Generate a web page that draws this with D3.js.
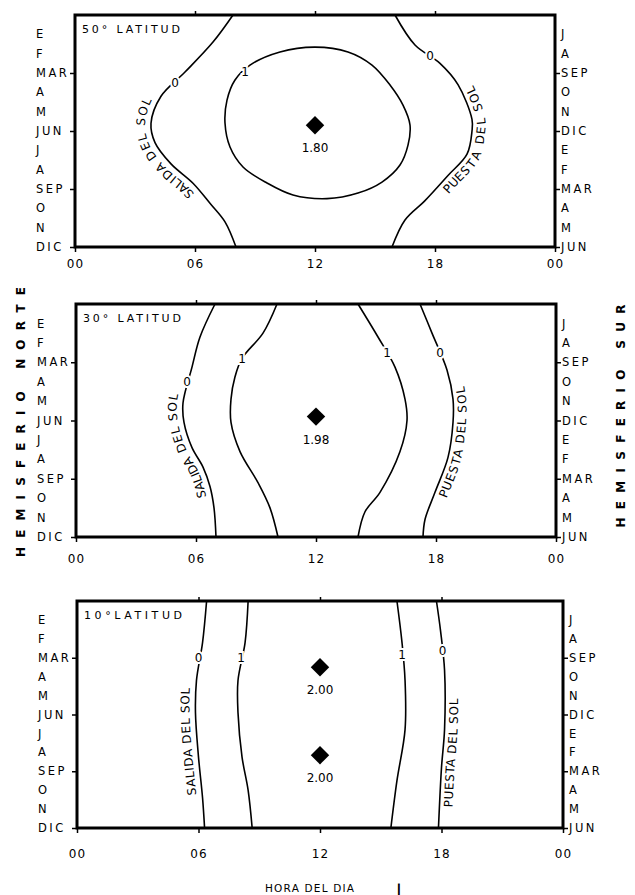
<!DOCTYPE html>
<html>
<head>
<meta charset="utf-8">
<script src="https://cdn.jsdelivr.net/npm/d3@7"></script>
<style>
body { margin: 0; background: #fff; }
text { font-family: "DejaVu Sans", sans-serif; fill: #000; }
</style>
</head>
<body>
<div id="chart"></div>
<script>
// hours of the day and months (0 = start of E, 12 = end of DIC)
var hourTicks = [0, 6, 12, 18, 24];
var hourLabels = ['00', '06', '12', '18', '00'];
var monthsNorth = ['E', 'F', 'MAR', 'A', 'M', 'JUN', 'J', 'A', 'SEP', 'O', 'N', 'DIC'];
var monthsSouth = ['J', 'A', 'SEP', 'O', 'N', 'DIC', 'E', 'F', 'MAR', 'A', 'M', 'JUN'];
var monthTicks = [3, 6, 9, 12];
var latitudes = ['50° LATITUD', '30° LATITUD', '10°LATITUD'];

// contour lines, points are [hour, month]
var sunrise50 = [[7.9, 0], [6.9, 1.4], [5.5, 2.95], [4.3, 4.2], [3.8, 5.6], [4.0, 6.6], [4.8, 7.7], [5.9, 8.7], [6.8, 9.8], [7.5, 10.7], [8.05, 12]];
var sunset50 = [[16.0, 0], [17.0, 1.55], [18.25, 2.5], [19.15, 3.6], [19.85, 5.4], [19.85, 6.0], [19.6, 7.2], [18.65, 8.3], [17.5, 9.6], [16.5, 10.6], [15.85, 12]];
var one50 = [[12, 1.66], [13.65, 1.91], [14.85, 2.59], [15.75, 3.62], [16.4, 4.66], [16.75, 5.69], [16.65, 6.73], [16.25, 7.76], [15.35, 8.64], [14.15, 9.21], [12.6, 9.5],
  [10.9, 9.31], [9.6, 8.69], [8.4, 7.86], [7.75, 6.83], [7.5, 5.59], [7.6, 4.4], [8.0, 3.36], [8.75, 2.59], [10.25, 1.91]];

var sunrise30 = [[6.95, 0], [6.2, 1.7], [5.8, 3.25], [5.35, 5.1], [5.4, 6.1], [5.8, 7.4], [6.35, 8.4], [6.7, 9.4], [6.9, 10.5], [7.0, 12]];
var oneLeft30 = [[10.05, 0], [9.35, 1.5], [8.3, 2.8], [7.95, 3.75], [7.75, 4.9], [7.75, 6.1], [8.2, 7.6], [9.1, 9.2], [9.7, 10.5], [10.1, 12]];
var oneRight30 = [[14.1, 0], [15.1, 1.7], [15.95, 3.25], [16.45, 4.9], [16.55, 6.0], [16.2, 7.6], [15.2, 9.7], [14.45, 10.7], [14.1, 12]];
var sunset30 = [[17.2, 0], [17.8, 1.5], [18.55, 3.4], [18.85, 4.9], [18.85, 6.1], [18.6, 7.9], [17.95, 9.7], [17.45, 11.1], [17.35, 12]];

var sunrise10 = [[6.4, 0], [6.2, 2.2], [5.9, 4.2], [5.85, 5.9], [6.0, 8.25], [6.2, 10.4], [6.3, 12]];
var oneLeft10 = [[8.45, 0], [8.3, 2.2], [7.95, 4.2], [7.95, 5.9], [8.15, 8.25], [8.45, 10], [8.65, 12]];
var oneRight10 = [[15.8, 0], [16.05, 2.2], [16.2, 4.2], [16.2, 6.8], [15.8, 9.5], [15.5, 12]];
var sunset10 = [[17.75, 0], [17.95, 1.55], [18.15, 3.65], [18.15, 6.8], [18.0, 8.8], [17.85, 12]];

// contour values written on the lines [hour, month, value]
var labels50 = [[5.0, 3.5, '0'], [17.75, 2.1, '0'], [8.5, 2.95, '1']];
var labels30 = [[5.55, 4.0, '0'], [8.3, 2.8, '1'], [15.55, 2.5, '1'], [18.2, 2.5, '0']];
var labels10 = [[6.0, 3.0, '0'], [8.1, 3.0, '1'], [16.05, 2.85, '1'], [18.05, 2.6, '0']];

// maximum values [hour, month, value]
var max50 = [[12, 5.7, '1.80']];
var max30 = [[12, 5.8, '1.98']];
var max10 = [[12, 3.5, '2.00'], [12, 8.15, '2.00']];

var panels = [
  {title: latitudes[0], open: [sunrise50, sunset50], closed: [one50], labels: labels50, max: max50, rise: sunrise50, set: sunset50, riseAt: 7.1, setAt: 6.6},
  {title: latitudes[1], open: [sunrise30, oneLeft30, oneRight30, sunset30], closed: [], labels: labels30, max: max30, rise: sunrise30, set: sunset30, riseAt: 7.35, setAt: 7.1},
  {title: latitudes[2], open: [sunrise10, oneLeft10, oneRight10, sunset10], closed: [], labels: labels10, max: max10, rise: sunrise10, set: sunset10, riseAt: 7.4, setAt: 8.0}
];

// where each box sits on the page
var boxes = [
  {x0: 75, x1: 555, y0: 15, y1: 247, pad: 7},
  {x0: 76, x1: 556, y0: 304, y1: 537, pad: 12},
  {x0: 77, x1: 563, y0: 601, y1: 828, pad: 16}
];

var w = 635;
var h = 895;

var svg = d3.select('#chart')
  .append('svg')
  .attr('width', w)
  .attr('height', h);

panels.forEach(function(p, i) {
  var b = boxes[i];
  var x = d3.scaleLinear().domain([0, 24]).range([b.x0, b.x1]);
  var y = d3.scaleLinear().domain([0, 12]).range([b.y0, b.y1]);
  var g = svg.append('g');

  var line = d3.line()
    .x(function(d) { return x(d[0]); })
    .y(function(d) { return y(d[1]); })
    .curve(d3.curveCatmullRom);
  var loop = d3.line()
    .x(function(d) { return x(d[0]); })
    .y(function(d) { return y(d[1]); })
    .curve(d3.curveCatmullRomClosed);

  p.open.forEach(function(c) {
    g.append('path')
      .attr('d', line(c))
      .attr('fill', 'none')
      .attr('stroke', '#000')
      .attr('stroke-width', 1.6);
  });
  p.closed.forEach(function(c) {
    g.append('path')
      .attr('d', loop(c))
      .attr('fill', 'none')
      .attr('stroke', '#000')
      .attr('stroke-width', 1.6);
  });

  // sunrise / sunset names along the 0 lines
  function pathLabel(pts, name, mCenter, dy, id) {
    var guide = g.append('path')
      .attr('id', id)
      .attr('d', line(pts.slice().reverse()))
      .attr('fill', 'none')
      .attr('stroke', 'none');
    var node = guide.node();
    var lo = 0, hi = node.getTotalLength();
    var ty = y(mCenter);
    for (var k = 0; k < 30; k++) {
      var mid = (lo + hi) / 2;
      if (node.getPointAtLength(mid).y > ty) lo = mid; else hi = mid;
    }
    g.append('text')
      .attr('dy', dy)
      .attr('font-size', 12)
      .attr('letter-spacing', 0.6)
      .append('textPath')
      .attr('href', '#' + id)
      .attr('startOffset', lo)
      .attr('text-anchor', 'middle')
      .text(name);
  }
  pathLabel(p.rise, 'SALIDA DEL SOL', p.riseAt, -6, 'rise' + i);
  pathLabel(p.set, 'PUESTA DEL SOL', p.setAt, 13, 'set' + i);

  // contour values
  g.selectAll('.clab')
    .data(p.labels)
    .enter()
    .append('text')
    .attr('class', 'clab')
    .attr('x', function(d) { return x(d[0]); })
    .attr('y', function(d) { return y(d[1]); })
    .attr('dy', '0.36em')
    .attr('text-anchor', 'middle')
    .attr('font-size', 12)
    .attr('stroke', '#fff')
    .attr('stroke-width', 4)
    .attr('paint-order', 'stroke')
    .text(function(d) { return d[2]; });

  // maxima
  g.selectAll('.dia')
    .data(p.max)
    .enter()
    .append('path')
    .attr('d', d3.symbol().type(d3.symbolSquare).size(170))
    .attr('transform', function(d) { return 'translate(' + x(d[0]) + ',' + y(d[1]) + ') rotate(45)'; })
    .attr('fill', '#000');
  g.selectAll('.maxlab')
    .data(p.max)
    .enter()
    .append('text')
    .attr('x', function(d) { return x(d[0]); })
    .attr('y', function(d) { return y(d[1]) + 27; })
    .attr('text-anchor', 'middle')
    .attr('font-size', 12)
    .text(function(d) { return d[2]; });

  // axes
  var xb = g.append('g')
    .attr('transform', 'translate(0,' + b.y1 + ')')
    .call(d3.axisBottom(x).tickValues(hourTicks)
      .tickFormat(function(d, j) { return hourLabels[j]; })
      .tickSize(5).tickPadding(b.pad));
  var xt = g.append('g')
    .attr('transform', 'translate(0,' + b.y0 + ')')
    .call(d3.axisTop(x).tickValues([6, 12, 18]).tickFormat('').tickSize(4));
  var yl = g.append('g')
    .attr('transform', 'translate(' + b.x0 + ',0)')
    .call(d3.axisLeft(y).tickValues(monthTicks).tickFormat('').tickSize(5));
  var yr = g.append('g')
    .attr('transform', 'translate(' + b.x1 + ',0)')
    .call(d3.axisRight(y).tickValues(monthTicks).tickFormat('').tickSize(5));
  [xb, xt, yl, yr].forEach(function(a) {
    a.select('.domain').remove();
    a.selectAll('line').attr('stroke-width', 1.5);
    a.selectAll('text')
      .attr('font-size', 12)
      .attr('letter-spacing', 1)
      .attr('font-family', '"DejaVu Sans", sans-serif');
  });

  g.selectAll('.mn')
    .data(monthsNorth)
    .enter()
    .append('text')
    .attr('x', b.x0 - 39)
    .attr('y', function(d, j) { return y(j + 1); })
    .attr('dy', '0.36em')
    .attr('font-size', 11.5)
    .attr('letter-spacing', 2.5)
    .text(function(d) { return d; });
  g.selectAll('.ms')
    .data(monthsSouth)
    .enter()
    .append('text')
    .attr('x', b.x1 + 6)
    .attr('y', function(d, j) { return y(j + 1); })
    .attr('dy', '0.36em')
    .attr('font-size', 11.5)
    .attr('letter-spacing', 2.5)
    .text(function(d) { return d; });

  g.append('rect')
    .attr('x', b.x0)
    .attr('y', b.y0)
    .attr('width', b.x1 - b.x0)
    .attr('height', b.y1 - b.y0)
    .attr('fill', 'none')
    .attr('stroke', '#000')
    .attr('stroke-width', 3);

  g.append('text')
    .attr('x', b.x0 + 7)
    .attr('y', b.y0 + 18)
    .attr('font-size', 11)
    .attr('textLength', 98)
    .attr('lengthAdjust', 'spacing')
    .text(p.title);
});

svg.append('text')
  .attr('transform', 'translate(25,422) rotate(-90)')
  .attr('text-anchor', 'middle')
  .attr('font-size', 12)
  .attr('font-weight', 'bold')
  .attr('textLength', 270)
  .attr('lengthAdjust', 'spacing')
  .text('HEMISFERIO  NORTE');

svg.append('text')
  .attr('transform', 'translate(625,416) rotate(-90)')
  .attr('text-anchor', 'middle')
  .attr('font-size', 12)
  .attr('font-weight', 'bold')
  .attr('textLength', 223)
  .attr('lengthAdjust', 'spacing')
  .text('HEMISFERIO  SUR');

svg.append('text')
  .attr('x', 265)
  .attr('y', 892)
  .attr('font-size', 10.5)
  .attr('letter-spacing', 1.2)
  .text('HORA DEL DIA');
svg.append('text')
  .attr('x', 397)
  .attr('y', 892)
  .attr('font-size', 11)
  .attr('stroke', '#000')
  .attr('stroke-width', 0.8)
  .style('fill', '#000')
  .text('|');
</script>
</body>
</html>
